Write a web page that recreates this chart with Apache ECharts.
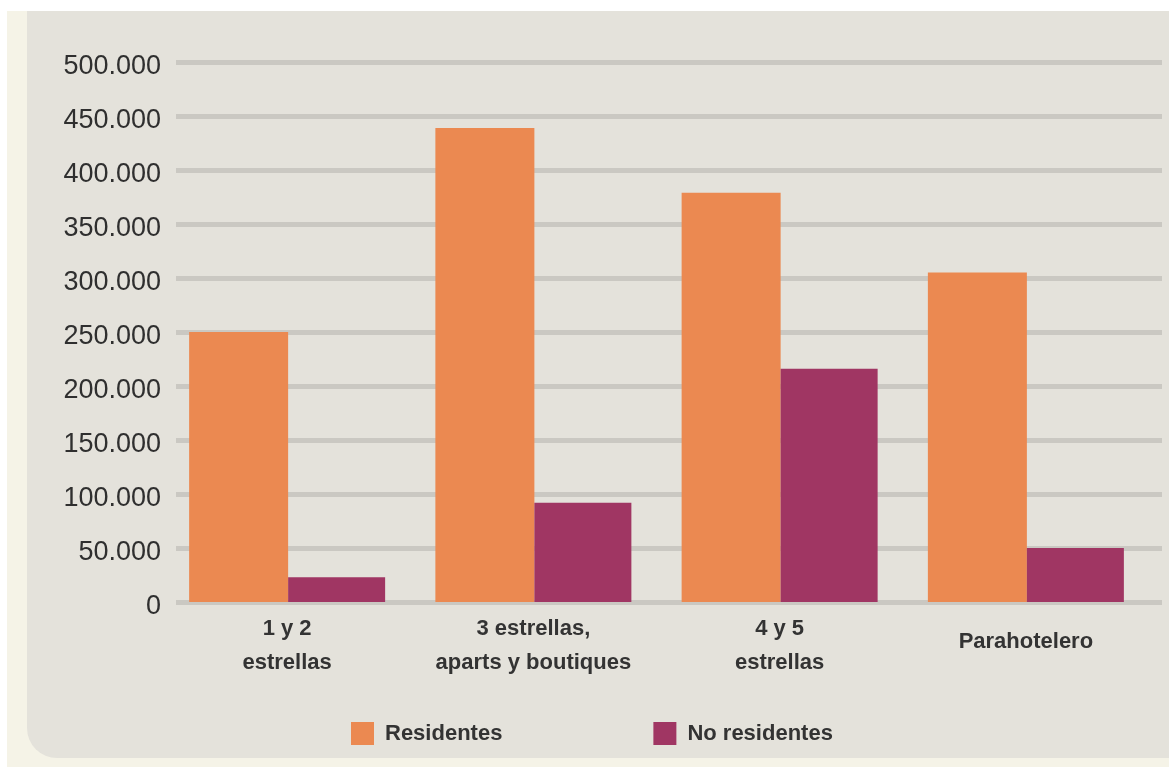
<!DOCTYPE html>
<html>
<head>
<meta charset="utf-8">
<script src="https://cdn.jsdelivr.net/npm/echarts@6/dist/echarts.min.js"></script>
<style>
  html, body { margin: 0; padding: 0; background: #ffffff; }
  #chart { width: 1169px; height: 767px; }
</style>
</head>
<body>
<div id="chart"></div>
<script>
// Plazas ocupadas por tipo de alojamiento
const categories = ['1 y 2\nestrellas', '3 estrellas,\naparts y boutiques', '4 y 5\nestrellas', 'Parahotelero'];
const seriesNames = ['Residentes', 'No residentes'];
const residentes = [250000, 439000, 379000, 305000];
const noResidentes = [23000, 92000, 216000, 50000];
const yTicks = { min: 0, max: 500000, step: 50000 };

const ORANGE = '#eb8951';
const PURPLE = '#a03663';
const FONT = '"Liberation Sans", Arial, Helvetica, sans-serif';

// thousands separated with dots: 500.000
function fmtThousands(v) {
  return String(Math.round(v)).replace(/\B(?=(\d{3})+(?!\d))/g, '.');
}

const chart = echarts.init(document.getElementById('chart'), null, { renderer: 'canvas' });

const plotTop = 62;
const plotBottom = 165;

chart.setOption({
  backgroundColor: '#ffffff',
  animation: false,
  graphic: [
    { type: 'rect', silent: true, z: -10, shape: { x: 7, y: 11, width: 1162, height: 756 }, style: { fill: '#f5f3e7' } },
    { type: 'rect', silent: true, z: -9, shape: { x: 27, y: 11, width: 1142, height: 747, r: [0, 0, 0, 30] }, style: { fill: '#e4e2db' } }
  ],
  legend: {
    data: seriesNames,
    left: 351,
    top: 722,
    padding: 0,
    icon: 'rect',
    itemWidth: 23,
    itemHeight: 23,
    itemGap: 151,
    textStyle: { fontFamily: FONT, fontSize: 22, fontWeight: 'bold', color: '#333333', padding: [0, 0, 0, 6] }
  },
  grid: [
    // grid carrying the value labels and the horizontal rules
    { left: 176, right: 7, top: plotTop, bottom: plotBottom },
    // grid carrying the bars
    { left: 164, width: 985, top: plotTop, bottom: plotBottom }
  ],
  xAxis: [
    { gridIndex: 0, type: 'value', show: false, min: 0, max: 1 },
    {
      gridIndex: 1,
      type: 'category',
      data: categories,
      axisLine: { show: false },
      axisTick: { show: false },
      axisLabel: {
        margin: 10,
        interval: 0,
        fontFamily: FONT,
        fontSize: 22,
        fontWeight: 'bold',
        color: '#333333',
        lineHeight: 34,
        formatter: function (v) {
          return v.indexOf('\n') >= 0 ? v : '{one|' + v + '}';
        },
        rich: {
          one: { fontFamily: FONT, fontSize: 22, fontWeight: 'bold', color: '#333333', lineHeight: 34, padding: [25, 0, 0, 0] }
        }
      }
    }
  ],
  yAxis: [
    {
      gridIndex: 0,
      type: 'value',
      min: yTicks.min,
      max: yTicks.max,
      interval: yTicks.step,
      axisLine: { show: false },
      axisTick: { show: false },
      axisLabel: {
        margin: 15,
        formatter: function (v) { return '{n|' + fmtThousands(v) + '}'; },
        rich: {
          n: { fontFamily: FONT, fontSize: 27, color: '#2f2f2f', padding: [9, 0, 0, 0] }
        }
      },
      splitLine: { show: true, lineStyle: { color: '#cac8c2', width: 5 } }
    },
    {
      gridIndex: 1,
      type: 'value',
      min: yTicks.min,
      max: yTicks.max,
      interval: yTicks.step,
      show: false,
      splitLine: { show: false }
    }
  ],
  series: [
    {
      name: seriesNames[0],
      type: 'bar',
      xAxisIndex: 1,
      yAxisIndex: 1,
      data: residentes,
      barWidth: 99,
      barGap: '0%',
      itemStyle: { color: ORANGE }
    },
    {
      name: seriesNames[1],
      type: 'bar',
      xAxisIndex: 1,
      yAxisIndex: 1,
      data: noResidentes,
      barWidth: 97,
      barGap: '0%',
      itemStyle: { color: PURPLE }
    }
  ]
});
</script>
</body>
</html>
